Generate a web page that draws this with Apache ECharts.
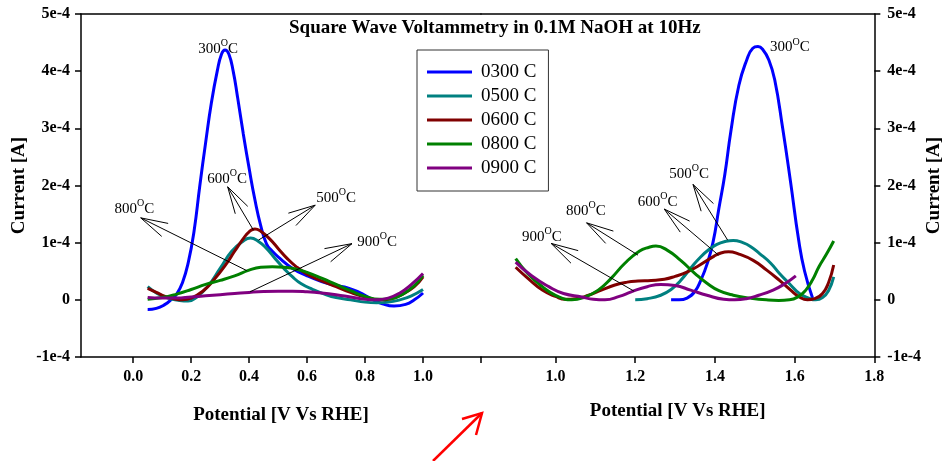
<!DOCTYPE html>
<html>
<head>
<meta charset="utf-8">
<script src="https://cdn.jsdelivr.net/npm/echarts@6/dist/echarts.min.js"></script>
<style>
  html, body { margin: 0; padding: 0; background: #fff; }
  #chart { width: 945px; height: 461px; }
</style>
</head>
<body>
<div id="chart"></div>
<script>
// ---- Data: potential [V vs RHE], current [A] ----
const seriesNames = ['0300 C', '0500 C', '0600 C', '0800 C', '0900 C'];
const seriesColors = ['#0000ff', '#008080', '#800000', '#008000', '#800080'];

// Low-potential window (left panel)
const left0300 = [[0.05,-0.17e-4],[0.08,-0.15e-4],[0.11,-0.08e-4],[0.13,0.0],[0.15,0.1e-4],[0.17,0.3e-4],[0.19,0.65e-4],[0.21,1.2e-4],[0.23,2.0e-4],[0.25,2.75e-4],[0.27,3.45e-4],[0.29,4.0e-4],[0.305,4.3e-4],[0.317,4.37e-4],[0.33,4.3e-4],[0.345,4.0e-4],[0.36,3.55e-4],[0.38,2.9e-4],[0.40,2.3e-4],[0.42,1.75e-4],[0.44,1.3e-4],[0.46,0.98e-4],[0.48,0.85e-4],[0.50,0.75e-4],[0.55,0.55e-4],[0.60,0.42e-4],[0.65,0.32e-4],[0.70,0.25e-4],[0.74,0.21e-4],[0.78,0.13e-4],[0.82,0.02e-4],[0.86,-0.07e-4],[0.90,-0.11e-4],[0.94,-0.08e-4],[0.97,0.0],[1.0,0.12e-4]];
const left0500 = [[0.05,0.23e-4],[0.08,0.12e-4],[0.12,0.03e-4],[0.16,-0.01e-4],[0.19,-0.02e-4],[0.22,0.05e-4],[0.26,0.25e-4],[0.30,0.55e-4],[0.34,0.85e-4],[0.38,1.03e-4],[0.405,1.08e-4],[0.43,1.03e-4],[0.46,0.9e-4],[0.49,0.72e-4],[0.52,0.55e-4],[0.55,0.4e-4],[0.58,0.28e-4],[0.62,0.18e-4],[0.66,0.1e-4],[0.70,0.04e-4],[0.75,0.0],[0.80,-0.04e-4],[0.84,-0.05e-4],[0.88,-0.04e-4],[0.92,0.0],[0.96,0.07e-4],[1.0,0.18e-4]];
const left0600 = [[0.05,0.2e-4],[0.08,0.13e-4],[0.11,0.06e-4],[0.14,0.02e-4],[0.17,0.0],[0.2,0.03e-4],[0.24,0.15e-4],[0.28,0.36e-4],[0.32,0.62e-4],[0.35,0.85e-4],[0.38,1.07e-4],[0.40,1.19e-4],[0.42,1.24e-4],[0.44,1.2e-4],[0.47,1.07e-4],[0.50,0.9e-4],[0.53,0.73e-4],[0.56,0.59e-4],[0.60,0.45e-4],[0.65,0.33e-4],[0.70,0.23e-4],[0.75,0.13e-4],[0.80,0.05e-4],[0.85,0.0],[0.89,0.02e-4],[0.93,0.1e-4],[0.97,0.23e-4],[1.0,0.4e-4]];
const left0800 = [[0.05,0.01e-4],[0.1,0.04e-4],[0.15,0.1e-4],[0.2,0.18e-4],[0.25,0.27e-4],[0.3,0.34e-4],[0.35,0.42e-4],[0.4,0.52e-4],[0.44,0.57e-4],[0.48,0.58e-4],[0.52,0.57e-4],[0.56,0.54e-4],[0.6,0.48e-4],[0.65,0.38e-4],[0.7,0.27e-4],[0.75,0.16e-4],[0.8,0.06e-4],[0.85,0.01e-4],[0.89,0.02e-4],[0.93,0.1e-4],[0.97,0.25e-4],[1.0,0.43e-4]];
const left0900 = [[0.05,0.04e-4],[0.1,0.03e-4],[0.15,0.03e-4],[0.2,0.05e-4],[0.25,0.07e-4],[0.3,0.09e-4],[0.35,0.11e-4],[0.4,0.13e-4],[0.45,0.145e-4],[0.5,0.15e-4],[0.55,0.15e-4],[0.6,0.14e-4],[0.65,0.12e-4],[0.7,0.09e-4],[0.75,0.05e-4],[0.8,0.01e-4],[0.84,0.0],[0.88,0.03e-4],[0.92,0.12e-4],[0.96,0.27e-4],[1.0,0.46e-4]];

// High-potential window (right panel)
const right0300 = [[1.29,0.0],[1.31,0.0],[1.33,0.03e-4],[1.35,0.15e-4],[1.365,0.35e-4],[1.38,0.62e-4],[1.395,1.0e-4],[1.41,1.6e-4],[1.425,2.2e-4],[1.44,2.95e-4],[1.46,3.75e-4],[1.48,4.2e-4],[1.495,4.4e-4],[1.508,4.43e-4],[1.52,4.38e-4],[1.535,4.2e-4],[1.55,3.85e-4],[1.57,3.0e-4],[1.59,2.05e-4],[1.61,1.05e-4],[1.625,0.5e-4],[1.645,0.03e-4]];
const right0500 = [[1.2,0.0],[1.23,0.02e-4],[1.264,0.08e-4],[1.29,0.18e-4],[1.314,0.34e-4],[1.34,0.56e-4],[1.364,0.75e-4],[1.385,0.88e-4],[1.405,0.97e-4],[1.425,1.02e-4],[1.446,1.04e-4],[1.47,1.0e-4],[1.49,0.93e-4],[1.512,0.81e-4],[1.54,0.64e-4],[1.562,0.46e-4],[1.59,0.26e-4],[1.612,0.11e-4],[1.635,0.03e-4],[1.653,0.0],[1.67,0.04e-4],[1.685,0.16e-4],[1.698,0.4e-4]];
const right0600 = [[0.9,0.57e-4],[0.93,0.38e-4],[0.967,0.17e-4],[1.0,0.06e-4],[1.025,0.01e-4],[1.05,0.02e-4],[1.083,0.08e-4],[1.115,0.17e-4],[1.149,0.26e-4],[1.18,0.31e-4],[1.207,0.33e-4],[1.24,0.34e-4],[1.273,0.36e-4],[1.30,0.41e-4],[1.331,0.49e-4],[1.36,0.6e-4],[1.397,0.76e-4],[1.415,0.82e-4],[1.434,0.84e-4],[1.46,0.8e-4],[1.496,0.69e-4],[1.53,0.52e-4],[1.562,0.34e-4],[1.59,0.17e-4],[1.612,0.05e-4],[1.632,0.0],[1.65,0.02e-4],[1.67,0.11e-4],[1.685,0.3e-4],[1.698,0.61e-4]];
const right0800 = [[0.9,0.72e-4],[0.93,0.46e-4],[0.967,0.23e-4],[1.0,0.08e-4],[1.041,0.0],[1.07,0.04e-4],[1.107,0.17e-4],[1.14,0.38e-4],[1.174,0.64e-4],[1.21,0.85e-4],[1.235,0.92e-4],[1.252,0.94e-4],[1.28,0.87e-4],[1.314,0.69e-4],[1.35,0.46e-4],[1.38,0.29e-4],[1.41,0.16e-4],[1.446,0.08e-4],[1.49,0.03e-4],[1.529,0.0],[1.56,-0.01e-4],[1.587,0.0],[1.61,0.06e-4],[1.628,0.17e-4],[1.645,0.35e-4],[1.661,0.58e-4],[1.68,0.8e-4],[1.698,1.03e-4]];
const right0900 = [[0.9,0.66e-4],[0.94,0.42e-4],[0.983,0.23e-4],[1.02,0.11e-4],[1.066,0.05e-4],[1.095,0.01e-4],[1.124,0.0],[1.16,0.06e-4],[1.19,0.14e-4],[1.23,0.23e-4],[1.264,0.27e-4],[1.30,0.25e-4],[1.339,0.17e-4],[1.38,0.08e-4],[1.422,0.01e-4],[1.45,0.0],[1.479,0.02e-4],[1.51,0.08e-4],[1.546,0.17e-4],[1.575,0.28e-4],[1.603,0.42e-4]];

// Axis ticks and labels
const leftXTicks = [0.0, 0.2, 0.4, 0.6, 0.8, 1.0, 1.2];
const leftXLabels = [0.0, 0.2, 0.4, 0.6, 0.8, 1.0];
const rightXTicks = [1.0, 1.2, 1.4, 1.6, 1.8];
const yTicks = [-1e-4, 0, 1e-4, 2e-4, 3e-4, 4e-4, 5e-4];
const yTickLabels = ['-1e-4', '0', '1e-4', '2e-4', '3e-4', '4e-4', '5e-4'];

// Peak annotations: temperature, label centre, arrow tip (at label), arrow tail (on curve)
const leftNotes = [
  { temp: '300', at: [0.293, 4.42e-4] },
  { temp: '600', at: [0.324, 2.146e-4], tip: [0.326, 1.977e-4], tail: [0.415, 1.219e-4] },
  { temp: '800', at: [0.004, 1.62e-4], tip: [0.026, 1.434e-4], tail: [0.392, 0.511e-4] },
  { temp: '500', at: [0.700, 1.814e-4], tip: [0.628, 1.656e-4], tail: [0.432, 1.044e-4] },
  { temp: '900', at: [0.842, 1.044e-4], tip: [0.755, 0.983e-4], tail: [0.403, 0.14e-4] }
];
const rightNotes = [
  { temp: '300', at: [1.588, 4.44e-4] },
  { temp: '900', at: [0.966, 1.132e-4], tip: [0.989, 0.987e-4], tail: [1.197, 0.152e-4] },
  { temp: '800', at: [1.076, 1.587e-4], tip: [1.078, 1.347e-4], tail: [1.207, 0.782e-4] },
  { temp: '600', at: [1.256, 1.744e-4], tip: [1.273, 1.587e-4], tail: [1.409, 0.782e-4] },
  { temp: '500', at: [1.335, 2.225e-4], tip: [1.345, 2.019e-4], tail: [1.432, 1.044e-4] }
];

const FONT = "'Liberation Serif', 'Times New Roman', serif";

function yLabel(v) {
  const i = yTicks.findIndex(t => Math.abs(t - v) < 1e-9);
  return i >= 0 ? yTickLabels[i] : '';
}

const axisLineStyle = { color: '#000', width: 1.5 };
const tickLabelStyle = { color: '#000', fontFamily: FONT, fontWeight: 'bold', fontSize: 16 };
const axisNameStyle = { color: '#000', fontFamily: FONT, fontWeight: 'bold', fontSize: 19 };

function noteRenderer(notes) {
  return function (params, api) {
    const n = notes[params.dataIndex];
    const c = api.coord(n.at);
    const children = [{
      type: 'text',
      x: c[0], y: c[1],
      style: {
        text: '{n|' + n.temp + '}{s|O}{n|C}',
        align: 'center', verticalAlign: 'middle',
        fill: '#000',
        rich: {
          n: { fontFamily: FONT, fontSize: 15, fill: '#000', lineHeight: 18, verticalAlign: 'bottom' },
          s: { fontFamily: FONT, fontSize: 10, fill: '#000', lineHeight: 18, verticalAlign: 'top' }
        }
      }
    }];
    if (n.tip) {
      const p = api.coord(n.tip);
      const q = api.coord(n.tail);
      const dx = q[0] - p[0], dy = q[1] - p[1];
      const len = Math.hypot(dx, dy);
      const ux = dx / len, uy = dy / len;
      const L = 28, a = 15 * Math.PI / 180;
      const w1 = [p[0] + L * (ux * Math.cos(a) - uy * Math.sin(a)), p[1] + L * (ux * Math.sin(a) + uy * Math.cos(a))];
      const w2 = [p[0] + L * (ux * Math.cos(-a) - uy * Math.sin(-a)), p[1] + L * (ux * Math.sin(-a) + uy * Math.cos(-a))];
      children.push({ type: 'line', shape: { x1: p[0], y1: p[1], x2: q[0], y2: q[1] }, style: { stroke: '#000', lineWidth: 1 } });
      children.push({ type: 'polyline', shape: { points: [w1, p, w2] }, style: { stroke: '#000', lineWidth: 1, fill: null } });
    }
    return { type: 'group', children: children };
  };
}

const leftData = [left0300, left0500, left0600, left0800, left0900];
const rightData = [right0300, right0500, right0600, right0800, right0900];

const series = [];
seriesNames.forEach((name, i) => {
  [leftData[i], rightData[i]].forEach((d, k) => {
    series.push({
      type: 'line', name: name, data: d,
      xAxisIndex: k, yAxisIndex: k,
      symbol: 'none', showSymbol: false, smooth: 0.5,
      lineStyle: { color: seriesColors[i], width: 3 },
      itemStyle: { color: seriesColors[i] },
      z: 3 + (i === 0 ? 0 : 1), silent: true
    });
  });
});
series.push({
  type: 'custom', xAxisIndex: 0, yAxisIndex: 0, silent: true, z: 10, clip: false,
  renderItem: noteRenderer(leftNotes), data: leftNotes.map(n => n.at)
});
series.push({
  type: 'custom', xAxisIndex: 1, yAxisIndex: 1, silent: true, z: 10, clip: false,
  renderItem: noteRenderer(rightNotes), data: rightNotes.map(n => n.at)
});

function xAxisFor(grid, min, max, ticks, labels, nameGap) {
  return {
    type: 'value', gridIndex: grid, min: min, max: max, position: 'bottom',
    name: 'Potential [V Vs RHE]', nameLocation: 'middle', nameGap: nameGap, nameTextStyle: axisNameStyle,
    axisLine: { show: true, onZero: false, lineStyle: axisLineStyle },
    axisTick: { show: true, inside: false, length: 6, customValues: ticks, lineStyle: { color: '#000', width: 1.5 } },
    axisLabel: { show: true, margin: 12, customValues: labels, formatter: v => v.toFixed(1), ...tickLabelStyle },
    splitLine: { show: false }
  };
}
function topAxis(grid, min, max) {
  return {
    type: 'value', gridIndex: grid, min: min, max: max, position: 'top',
    axisLine: { show: true, onZero: false, lineStyle: axisLineStyle },
    axisTick: { show: false }, axisLabel: { show: false }, splitLine: { show: false }
  };
}
function yAxisFor(grid, pos, nameGap, margin) {
  return {
    type: 'value', gridIndex: grid, position: pos, min: -1e-4, max: 5e-4, interval: 1e-4,
    name: 'Current [A]', nameLocation: 'middle', nameGap: nameGap, nameRotate: 90, nameTextStyle: axisNameStyle,
    axisLine: { show: true, onZero: false, lineStyle: axisLineStyle },
    axisTick: { show: true, inside: false, length: 6, lineStyle: { color: '#000', width: 1.5 } },
    axisLabel: { show: true, margin: margin, formatter: yLabel, ...tickLabelStyle },
    splitLine: { show: false }
  };
}

const option = {
  backgroundColor: '#fff',
  animation: false,
  title: {
    text: 'Square Wave Voltammetry in 0.1M NaOH at 10Hz',
    left: 289, top: 19, padding: 0,
    textStyle: { fontFamily: FONT, fontWeight: 'bold', fontSize: 19, color: '#000' }
  },
  legend: {
    data: seriesNames, orient: 'vertical', left: 417, top: 50, icon: 'rect',
    padding: [12, 12, 13, 10], itemGap: 4, itemWidth: 45, itemHeight: 3,
    borderColor: '#333', borderWidth: 1, borderRadius: 0,
    textStyle: { fontFamily: FONT, fontSize: 19, color: '#000', lineHeight: 20, padding: [0, 0, 0, 4] },
    selectedMode: false
  },
  grid: [
    { left: 81, top: 14, width: 400, height: 343 },
    { left: 481, top: 14, width: 398, height: 343 }
  ],
  xAxis: [
    xAxisFor(0, -0.18, 1.2, leftXTicks, leftXLabels, 49),
    xAxisFor(1, 0.813, 1.8, rightXTicks, rightXTicks, 45),
    topAxis(0, -0.18, 1.2),
    topAxis(1, 0.813, 1.8)
  ],
  yAxis: [
    yAxisFor(0, 'left', 52, 11),
    yAxisFor(1, 'right', 50, 13)
  ],
  graphic: [
    {
      type: 'polyline', silent: true, z: 100,
      shape: { points: [[433, 461], [482, 413]] },
      style: { stroke: '#ff0000', lineWidth: 2.5, fill: null }
    },
    {
      type: 'polyline', silent: true, z: 100,
      shape: { points: [[462, 419], [482, 413], [476, 435]] },
      style: { stroke: '#ff0000', lineWidth: 2.5, fill: null }
    }
  ],
  series: series
};

const chart = echarts.init(document.getElementById('chart'), null, { renderer: 'canvas' });
chart.setOption(option);
</script>
</body>
</html>
